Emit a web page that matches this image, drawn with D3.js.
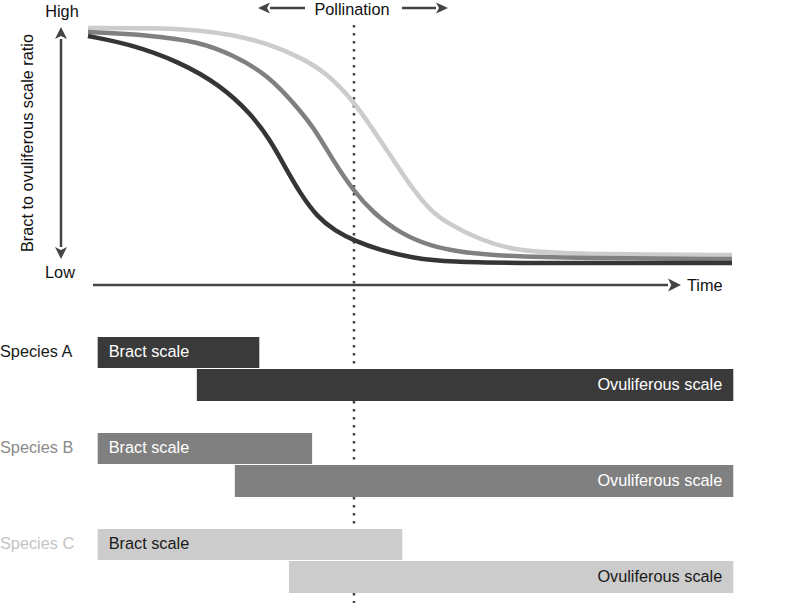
<!DOCTYPE html>
<html>
<head>
<meta charset="utf-8">
<script src="https://cdn.jsdelivr.net/npm/d3@7"></script>
<style>
  body { margin: 0; background: #fff; }
  svg { display: block; font-family: "Liberation Sans", Arial, Helvetica, sans-serif; }
</style>
</head>
<body>
<svg width="788" height="603"></svg>
<script>
// time runs 0..100, ratio runs 0 (low) .. 100 (high)
let timeA = [0, 6.5, 14.3, 20.5, 25.2, 28.3, 30.6, 32.9, 35.6, 38.4, 41.5, 45.3, 50.5, 56.2, 67.1, 79.5, 100];
let ratioA = [96.6, 93.2, 85.6, 75.8, 64.0, 52.5, 41.1, 30.1, 19.9, 14.0, 9.7, 5.9, 2.5, 0.8, 0.4, 0.4, 0.4];

let timeB = [0, 9.6, 17.4, 22.5, 27.8, 32.9, 35.6, 38.0, 41.1, 44.3, 48.4, 53.1, 57.8, 64.0, 76.4, 100];
let ratioB = [98.3, 97.0, 94.1, 88.5, 80.5, 65.3, 55.5, 44.1, 31.4, 21.6, 13.1, 7.6, 5.1, 3.4, 2.5, 2.1];

let timeC = [0, 9.6, 17.4, 22.5, 27.8, 32.9, 37.1, 41.1, 44.3, 46.9, 50.5, 53.1, 55.7, 60.9, 66.0, 73.3, 100];
let ratioC = [100, 100, 99.2, 97.0, 93.6, 87.7, 80.9, 69.5, 56.8, 46.2, 31.4, 22.9, 17.4, 10.2, 5.9, 4.2, 3.8];

let species = ['Species A', 'Species B', 'Species C'];
let bractStart = [1.5, 1.5, 1.5];
let bractEnd = [26.6, 34.8, 48.8];
let ovulStart = [16.9, 22.8, 31.2];
let ovulEnd = [100.2, 100.2, 100.2];
let pollinationTime = 41.3;

let fills = ['#3a3a3a', '#808080', '#cccccc'];
let lineColors = ['#353535', '#808080', '#cccccc'];
let labelColors = ['#1a1a1a', '#8a8a8a', '#c4c4c4'];
let barTextColors = ['#ffffff', '#ffffff', '#1a1a1a'];

let svg = d3.select('svg');
let axisColor = '#444';
let fs = 16.3;

let x = d3.scaleLinear().domain([0, 100]).range([88, 732]);
let y = d3.scaleLinear().domain([0, 100]).range([264, 28]);
let row = d3.scaleBand().domain(species).range([337, 337 + 96 * 3]);

// dotted pollination line (behind everything)
svg.append('line')
  .attr('x1', x(pollinationTime)).attr('x2', x(pollinationTime))
  .attr('y1', 25).attr('y2', 603)
  .attr('stroke', axisColor)
  .attr('stroke-width', 2.5)
  .attr('stroke-dasharray', '2.5,5.5');

function arrow(x1, y1, x2, y2, len, half) {
  let ang = Math.atan2(y2 - y1, x2 - x1);
  let bx = x2 - len * Math.cos(ang), by = y2 - len * Math.sin(ang);
  svg.append('line')
    .attr('x1', x1).attr('y1', y1).attr('x2', bx).attr('y2', by)
    .attr('stroke', axisColor).attr('stroke-width', 2.5);
  let px = -Math.sin(ang) * half, py = Math.cos(ang) * half;
  svg.append('path')
    .attr('d', `M${x2},${y2}L${bx + px},${by + py}L${bx + len * 0.25 * Math.cos(ang)},${by + len * 0.25 * Math.sin(ang)}L${bx - px},${by - py}Z`)
    .attr('fill', axisColor);
}

// y axis double arrow
arrow(61, 143, 61, 27, 12, 6);
arrow(61, 143, 61, 259, 12, 6);
// x axis arrow
arrow(93, 285, 681, 285, 13, 6.5);
// pollination arrows
arrow(305, 8, 258, 8, 12, 5.5);
arrow(402, 8, 448, 8, 12, 5.5);

svg.append('text').attr('x', 62).attr('y', 17).attr('text-anchor', 'middle')
  .attr('font-size', fs).attr('fill', '#111').text('High');
svg.append('text').attr('x', 60).attr('y', 278).attr('text-anchor', 'middle')
  .attr('font-size', fs).attr('fill', '#111').text('Low');
svg.append('text').attr('x', 687).attr('y', 291)
  .attr('font-size', fs).attr('fill', '#111').text('Time');
svg.append('text').attr('x', 352).attr('y', 15).attr('text-anchor', 'middle')
  .attr('font-size', fs).attr('fill', '#111').text('Pollination');
svg.append('text')
  .attr('transform', 'translate(33,143) rotate(-90)')
  .attr('text-anchor', 'middle')
  .attr('font-size', fs).attr('fill', '#111')
  .text('Bract to ovuliferous scale ratio');

// curves, light first so dark sits on top
let curves = [
  { t: timeC, r: ratioC, c: lineColors[2] },
  { t: timeB, r: ratioB, c: lineColors[1] },
  { t: timeA, r: ratioA, c: lineColors[0] }
];
let line = d3.line()
  .x(d => x(d[0]))
  .y(d => y(d[1]))
  .curve(d3.curveBasis);

curves.forEach(cv => {
  svg.append('path')
    .datum(d3.zip(cv.t, cv.r))
    .attr('d', line)
    .attr('fill', 'none')
    .attr('stroke', cv.c)
    .attr('stroke-width', 4.5);
});

// phase bars
species.forEach((sp, i) => {
  let top = row(sp);
  svg.append('text')
    .attr('x', 0).attr('y', top + 20)
    .attr('font-size', fs).attr('fill', labelColors[i])
    .text(sp);

  svg.append('rect')
    .attr('x', x(bractStart[i])).attr('y', top)
    .attr('width', x(bractEnd[i]) - x(bractStart[i])).attr('height', 31)
    .attr('fill', fills[i]);
  svg.append('text')
    .attr('x', x(bractStart[i]) + 11).attr('y', top + 20)
    .attr('font-size', fs).attr('fill', barTextColors[i])
    .text('Bract scale');

  svg.append('rect')
    .attr('x', x(ovulStart[i])).attr('y', top + 32)
    .attr('width', x(ovulEnd[i]) - x(ovulStart[i])).attr('height', 32)
    .attr('fill', fills[i]);
  svg.append('text')
    .attr('x', x(ovulEnd[i]) - 11).attr('y', top + 53)
    .attr('text-anchor', 'end')
    .attr('font-size', fs).attr('fill', barTextColors[i])
    .text('Ovuliferous scale');
});
</script>
</body>
</html>
